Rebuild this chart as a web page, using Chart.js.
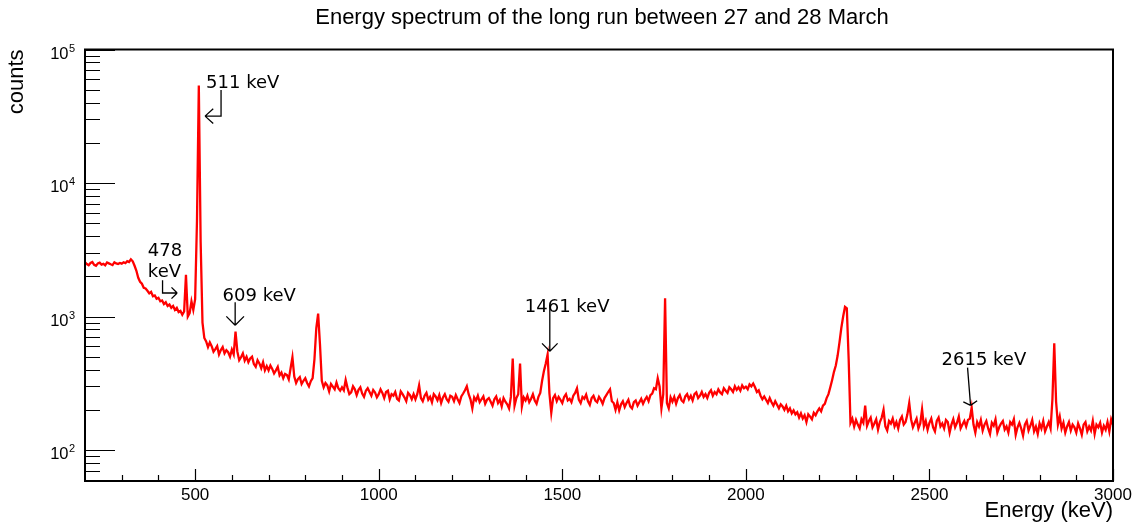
<!DOCTYPE html>
<html>
<head>
<meta charset="utf-8">
<script src="https://cdn.jsdelivr.net/npm/chart.js@4/dist/chart.umd.min.js"></script>
<style>
  html, body { margin: 0; padding: 0; background: #fff; }
  canvas { display: block; }
</style>
</head>
<body>
<canvas id="espectro" width="1138" height="524"></canvas>
<script>
// histograma: bins de 5 keV desde 200 keV
const binStart = 200;
const binWidth = 5;
const counts = [
  2550, 2470, 2420, 2520, 2560, 2440, 2400, 2500, 2530, 2450, 2480, 2420, 2540, 2500, 2460, 2430, 2550, 2500, 2470, 2520, // 200
  2490, 2550, 2510, 2600, 2560, 2680, 2590, 2400, 2200, 1950, 1820, 1760, 1640, 1620, 1560, 1490, 1530, 1420, 1440, 1360, // 300
  1380, 1300, 1320, 1240, 1280, 1200, 1230, 1160, 1200, 1120, 1160, 1080, 1100, 1030, 1090, 2050, 1000, 1060, 1300, 1120, // 400
  1350, 5200, 53700, 3600, 900, 690, 650, 590, 640, 600, 545, 570, 600, 520, 560, 590, 530, 560, 540, 500, // 500
  565, 520, 770, 545, 470, 495, 530, 468, 500, 455, 485, 500, 440, 420, 470, 445, 410, 455, 395, 425, // 600
  395, 430, 405, 375, 395, 420, 362, 380, 345, 372, 365, 338, 410, 495, 355, 318, 340, 352, 312, 330, // 700
  345, 318, 300, 328, 345, 480, 820, 1050, 620, 330, 295, 318, 305, 275, 312, 298, 285, 320, 290, 278, // 800
  295, 280, 335, 292, 262, 270, 300, 285, 258, 282, 295, 265, 250, 278, 290, 272, 255, 282, 270, 248, // 900
  262, 285, 268, 245, 272, 278, 240, 262, 255, 272, 242, 235, 275, 262, 248, 232, 268, 258, 240, 262, // 1000
  240, 262, 305, 245, 232, 255, 268, 238, 250, 228, 262, 252, 236, 258, 225, 248, 262, 240, 230, 255, // 1100
  250, 232, 258, 240, 225, 252, 265, 280, 300, 262, 240, 205, 248, 235, 255, 228, 240, 252, 222, 238, // 1200
  245, 230, 215, 240, 252, 225, 238, 212, 245, 230, 220, 205, 250, 485, 215, 245, 262, 445, 212, 248, // 1300
  235, 255, 228, 242, 262, 235, 222, 250, 268, 330, 390, 445, 520, 265, 190, 245, 258, 232, 250, 238, // 1400
  225, 250, 262, 235, 242, 228, 255, 268, 290, 238, 225, 250, 242, 260, 232, 218, 245, 255, 235, 228, // 1500
  250, 238, 222, 245, 258, 272, 285, 232, 225, 200, 228, 198, 220, 232, 210, 225, 238, 212, 205, 228, // 1600
  235, 215, 228, 242, 222, 238, 250, 232, 258, 265, 290, 285, 345, 300, 205, 262, 1370, 225, 205, 248, // 1700
  230, 250, 222, 245, 258, 235, 228, 252, 262, 240, 255, 235, 262, 270, 245, 255, 272, 250, 262, 245, // 1800
  268, 280, 255, 272, 262, 285, 270, 262, 290, 278, 268, 295, 285, 272, 300, 282, 295, 278, 305, 290, // 1900
  298, 285, 310, 300, 315, 295, 272, 280, 255, 240, 252, 238, 225, 245, 228, 215, 232, 218, 205, 220, // 2000
  212, 200, 215, 195, 205, 188, 198, 185, 192, 175, 188, 172, 182, 162, 185, 178, 170, 190, 182, 195, // 2100
  205, 195, 215, 222, 245, 262, 295, 335, 385, 430, 510, 640, 820, 1000, 1180, 1150, 480, 160, 172, 150, // 2200
  168, 155, 145, 170, 160, 215, 152, 165, 175, 148, 158, 170, 142, 162, 175, 200, 150, 140, 165, 158, // 2300
  172, 150, 162, 145, 168, 178, 155, 162, 185, 225, 170, 148, 160, 172, 145, 158, 202, 150, 165, 142, // 2400
  160, 172, 148, 138, 165, 175, 150, 158, 145, 168, 162, 135, 155, 170, 148, 160, 178, 145, 155, 165, // 2500
  150, 168, 172, 208, 155, 135, 162, 150, 168, 140, 155, 165, 145, 132, 160, 152, 170, 135, 148, 158, // 2600
  165, 142, 150, 135, 162, 155, 170, 130, 148, 160, 145, 128, 155, 165, 140, 152, 168, 138, 150, 132, // 2700
  158, 145, 165, 138, 150, 162, 145, 240, 630, 230, 155, 178, 145, 160, 135, 150, 162, 140, 155, 148, // 2800
  135, 158, 145, 130, 155, 162, 138, 150, 140, 165, 132, 155, 148, 160, 135, 152, 142, 162, 138, 170, 155 // 2900-3000
];

const xTickLabels = [500, 1000, 1500, 2000, 2500, 3000];
const yDecades = [2, 3, 4, 5];

const peakLabels = [["511 keV"], ["478", "keV"], ["609 keV"], ["1461 keV"], ["2615 keV"]];
const peakTipEnergy = [527, 451, 609, 1466, 2612];
const peakTipCounts = [31700, 1500, 860, 550, 216];

// geometria de las flechas (pixeles relativos a la punta)
const flechas = [
  { cola: [[16, 0], [16, -26]], texto: [[1, -28]], largo: 11, ang: 42 },
  { cola: [[-14.6, 0], [-14.6, -12.7]], texto: [[-29.3, -36.7], [-29.3, -15.7]], largo: 8, ang: 45 },
  { cola: [[0, -23]], texto: [[-12.6, -24.3]], largo: 12.5, ang: 45 },
  { cola: [[0, -46]], texto: [[-25, -38.7]], largo: 11, ang: 45 },
  { cola: [[-3, -37.7]], texto: [[-29, -40]], largo: 8, ang: 60 }
];

const puntos = counts.map((c, i) => ({ x: binStart + i * binWidth, y: c }));

const ejesRoot = {
  id: 'ejesRoot',
  afterDatasetsDraw(chart) {
    const { ctx, chartArea: a, scales: { x, y } } = chart;
    ctx.save();
    ctx.strokeStyle = '#000';
    ctx.fillStyle = '#000';

    // ticks hacia adentro
    ctx.lineWidth = 1.2;
    ctx.beginPath();
    for (let e = 300; e <= 3000; e += 100) {
      const px = Math.round(x.getPixelForValue(e)) + 0.5;
      const len = e % 500 === 0 ? 12 : 6;
      ctx.moveTo(px, a.bottom);
      ctx.lineTo(px, a.bottom - len);
    }
    for (let d = 1; d <= 5; d++) {
      for (let m = 1; m <= 9; m++) {
        const v = m * Math.pow(10, d);
        if (v < y.min || v > y.max) continue;
        const py = Math.round(y.getPixelForValue(v)) + 0.5;
        const len = m === 1 ? 30 : 15;
        ctx.moveTo(a.left, py);
        ctx.lineTo(a.left + len, py);
      }
    }
    ctx.stroke();

    // marco
    ctx.lineWidth = 2;
    ctx.strokeRect(a.left, a.top, a.right - a.left, a.bottom - a.top);

    // etiquetas eje x
    ctx.font = '17px "Liberation Sans", Arial, sans-serif';
    ctx.textAlign = 'center';
    ctx.textBaseline = 'alphabetic';
    xTickLabels.forEach(v => {
      ctx.fillText(String(v), x.getPixelForValue(v), 500);
    });

    // etiquetas eje y (10^n)
    yDecades.forEach(d => {
      const py = y.getPixelForValue(Math.pow(10, d));
      ctx.font = '16.5px "Liberation Sans", Arial, sans-serif';
      ctx.textAlign = 'right';
      ctx.fillText('10', 68.5, py + 9);
      ctx.font = '11px "Liberation Sans", Arial, sans-serif';
      ctx.textAlign = 'left';
      ctx.fillText(String(d), 69, py + 2);
    });

    // titulos
    ctx.font = '22px "Liberation Sans", Arial, sans-serif';
    ctx.textAlign = 'center';
    ctx.fillText('Energy spectrum of the long run between 27 and 28 March', 602, 24);

    ctx.textAlign = 'right';
    ctx.fillText('Energy (keV)', a.right, 517);

    ctx.save();
    ctx.translate(23, a.top);
    ctx.rotate(-Math.PI / 2);
    ctx.textAlign = 'right';
    ctx.fillText('counts', 0, 0);
    ctx.restore();

    // flechas de los picos
    ctx.lineWidth = 1.3;
    ctx.font = '18px "DejaVu Sans", sans-serif';
    ctx.textAlign = 'left';
    flechas.forEach((f, i) => {
      const tx = x.getPixelForValue(peakTipEnergy[i]);
      const ty = y.getPixelForValue(peakTipCounts[i]);
      ctx.beginPath();
      ctx.moveTo(tx, ty);
      f.cola.forEach(p => ctx.lineTo(tx + p[0], ty + p[1]));
      const dx = -f.cola[0][0], dy = -f.cola[0][1];
      const base = Math.atan2(dy, dx);
      const r = f.ang * Math.PI / 180;
      [base + Math.PI - r, base + Math.PI + r].forEach(t => {
        ctx.moveTo(tx, ty);
        ctx.lineTo(tx + f.largo * Math.cos(t), ty + f.largo * Math.sin(t));
      });
      ctx.stroke();
      peakLabels[i].forEach((txt, k) => {
        ctx.fillText(txt, tx + f.texto[k][0], ty + f.texto[k][1]);
      });
    });

    ctx.restore();
  }
};

new Chart(document.getElementById('espectro'), {
  type: 'line',
  data: {
    datasets: [{
      data: puntos,
      borderColor: '#ff0000',
      borderWidth: 2.3,
      pointRadius: 0,
      tension: 0,
      fill: false
    }]
  },
  options: {
    responsive: false,
    animation: false,
    layout: { padding: { left: 85, right: 25, top: 49.5, bottom: 43 } },
    plugins: { legend: { display: false }, tooltip: { enabled: false }, title: { display: false } },
    scales: {
      x: { type: 'linear', min: 200, max: 3000, display: false },
      y: { type: 'logarithmic', min: 58.6, max: 100000, display: false }
    }
  },
  plugins: [ejesRoot]
});
</script>
</body>
</html>
